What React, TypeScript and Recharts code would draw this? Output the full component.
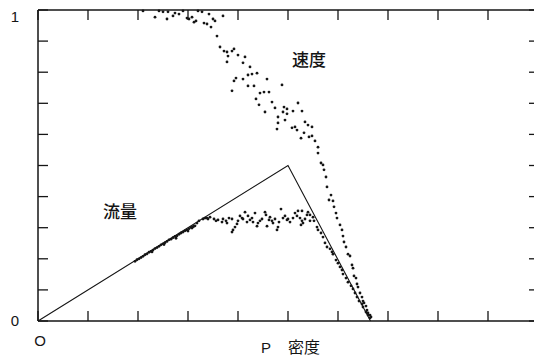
import { ScatterChart, Scatter, XAxis, YAxis } from "recharts";

// density (x) / normalised value (y)
const speedPoints: [number, number][] = [
  [2.1, 0.997], [2.34, 0.977], [2.42, 0.997], [2.5, 0.994], [2.58, 0.971], [2.6, 0.994],
  [2.7, 0.981], [2.74, 0.99], [2.82, 0.987], [2.9, 0.997], [2.98, 0.974], [3.02, 0.971],
  [3.08, 0.977], [3.12, 0.961], [3.16, 0.965], [3.2, 0.997], [3.28, 0.994], [3.32, 0.958],
  [3.38, 0.955], [3.42, 0.987], [3.46, 0.945], [3.5, 0.971], [3.54, 0.965], [3.58, 0.916],
  [3.7, 0.981], [3.64, 0.881], [3.72, 0.868], [3.78, 0.865], [3.8, 0.852], [3.88, 0.868],
  [3.92, 0.875], [3.78, 0.833], [4.0, 0.855], [4.14, 0.849], [4.1, 0.83],
  [4.24, 0.817], [4.28, 0.794], [4.38, 0.797], [4.2, 0.791], [3.96, 0.781], [3.92, 0.772],
  [4.1, 0.778], [4.58, 0.778], [4.2, 0.756], [4.32, 0.756], [3.88, 0.74], [4.44, 0.733],
  [4.52, 0.736], [4.62, 0.736], [4.88, 0.759], [4.36, 0.714], [4.68, 0.704], [4.42, 0.695],
  [4.74, 0.685], [4.54, 0.672], [4.92, 0.688], [4.98, 0.682], [5.1, 0.675], [5.28, 0.675],
  [4.9, 0.672], [5.2, 0.701], [4.98, 0.666], [4.8, 0.656], [4.8, 0.637], [4.94, 0.646],
  [5.08, 0.621], [5.14, 0.624], [4.78, 0.617], [5.18, 0.614], [5.34, 0.64], [5.4, 0.63],
  [5.48, 0.624], [5.32, 0.605], [5.42, 0.592], [5.48, 0.595], [5.26, 0.588], [5.54, 0.579],
  [5.6, 0.559], [5.6, 0.54], [5.66, 0.508], [5.7, 0.502], [5.72, 0.486], [5.76, 0.463],
  [5.78, 0.431], [5.86, 0.405], [5.82, 0.389], [5.9, 0.386], [5.92, 0.367], [5.96, 0.347],
  [5.98, 0.331], [6.04, 0.309], [6.08, 0.293], [6.1, 0.273], [6.12, 0.254], [6.16, 0.238],
  [6.2, 0.215], [6.24, 0.209], [6.28, 0.18], [6.3, 0.17], [6.32, 0.145], [6.36, 0.138],
  [6.38, 0.119], [6.4, 0.109], [6.44, 0.09], [6.48, 0.077], [6.5, 0.064], [6.52, 0.058],
  [6.56, 0.048], [6.58, 0.035], [6.6, 0.026], [6.64, 0.019], [6.66, 0.013],
];

const flowPoints: [number, number][] = [
  [1.94, 0.192], [1.98, 0.197], [2.02, 0.2], [2.06, 0.204], [2.1, 0.208], [2.14, 0.213],
  [2.18, 0.216], [2.22, 0.221], [2.26, 0.224], [2.28, 0.222], [2.3, 0.228], [2.34, 0.233],
  [2.38, 0.236], [2.42, 0.24], [2.46, 0.245], [2.5, 0.248], [2.52, 0.246], [2.54, 0.252],
  [2.58, 0.256], [2.62, 0.261], [2.66, 0.263], [2.7, 0.268], [2.74, 0.272], [2.76, 0.266],
  [2.78, 0.274], [2.82, 0.279], [2.86, 0.283], [2.9, 0.286], [2.94, 0.29], [2.98, 0.293],
  [3.0, 0.289], [3.02, 0.297], [3.06, 0.301], [3.1, 0.303], [3.14, 0.306],
  [3.08, 0.299], [3.12, 0.305], [3.18, 0.315], [3.22, 0.322], [3.3, 0.328], [3.34, 0.331],
  [3.38, 0.331], [3.4, 0.328], [3.44, 0.334], [3.52, 0.328], [3.56, 0.322], [3.6, 0.325],
  [3.68, 0.318], [3.7, 0.328], [3.76, 0.322], [3.78, 0.315], [3.82, 0.331], [3.88, 0.328],
  [3.9, 0.293], [3.88, 0.286], [3.94, 0.302], [3.98, 0.312], [4.0, 0.322], [4.04, 0.338],
  [4.08, 0.331], [4.1, 0.328], [4.14, 0.35], [4.18, 0.318], [4.2, 0.338], [4.24, 0.325],
  [4.28, 0.331], [4.3, 0.318], [4.34, 0.347], [4.38, 0.305], [4.4, 0.315], [4.44, 0.322],
  [4.48, 0.328], [4.54, 0.35], [4.56, 0.341], [4.58, 0.305], [4.62, 0.325], [4.64, 0.334],
  [4.68, 0.322], [4.7, 0.315], [4.74, 0.328], [4.78, 0.293], [4.8, 0.302], [4.82, 0.318],
  [4.86, 0.36], [4.9, 0.331], [4.94, 0.338], [4.98, 0.325], [5.0, 0.328], [5.04, 0.318],
  [5.1, 0.331], [5.14, 0.347], [5.18, 0.338], [5.2, 0.354], [5.24, 0.331], [5.28, 0.322],
  [5.34, 0.328], [5.38, 0.341], [5.4, 0.35], [5.44, 0.322],
  [5.28, 0.354], [5.26, 0.309], [5.3, 0.315], [5.44, 0.341], [5.5, 0.334], [5.52, 0.322],
  [5.58, 0.302], [5.6, 0.293], [5.66, 0.283], [5.7, 0.27], [5.74, 0.251], [5.78, 0.238],
  [5.84, 0.232], [5.88, 0.222], [5.9, 0.215], [5.96, 0.196], [6.0, 0.186], [6.04, 0.174],
  [6.08, 0.164], [6.1, 0.151], [6.16, 0.138], [6.2, 0.125], [6.26, 0.113], [6.3, 0.103],
  [6.34, 0.09], [6.38, 0.077], [6.42, 0.064], [6.48, 0.055], [6.5, 0.045], [6.56, 0.029],
  [6.6, 0.019], [6.64, 0.01],
];

// theoretical flow-density triangle
const modelLine: [number, number][] = [[0, 0], [5, 0.5], [6.65, 0]];

const xTicks = [0, 1, 2, 3, 4, 5, 6, 7, 8, 9, 10];
const yTicks = [0, 0.1, 0.2, 0.3, 0.4, 0.5, 0.6, 0.7, 0.8, 0.9, 1];
const yLabelTicks = [0, 1];

const INK = "#151515";
const FONT = "'Liberation Sans', Arial, sans-serif";
const CJK = "'Noto Sans CJK JP', 'Noto Sans CJK SC', sans-serif";

const toRows = (pts: [number, number][]) => pts.map(([d, v]) => ({ d, v }));

function Dot({ cx, cy }: any) {
  return <circle cx={cx} cy={cy} r={1.4} fill={INK} />;
}

const NoLabel = () => <g />;

function YLabel({ y, payload }: any) {
  const dy = payload.value === 1 ? 12 : 5;
  return (
    <text x={15} y={y + dy} textAnchor="middle" fontSize={15} fontFamily={FONT} fill={INK}>
      {payload.value}
    </text>
  );
}

export default function App() {
  const axisLine = { stroke: INK, strokeWidth: 1.5 };
  const tickLine = { stroke: INK, strokeWidth: 1.3 };
  return (
    <div style={{ position: "absolute", left: 0, top: 0, width: 534, height: 358, overflow: "hidden", background: "#fff" }}>
      <ScatterChart width={540} height={358} margin={{ top: 10, right: 2, bottom: 37, left: 0 }}>
        <XAxis xAxisId="b" dataKey="d" type="number" domain={[0, 10]} ticks={xTicks} mirror
          axisLine={axisLine} tickLine={tickLine} tickSize={10} tick={NoLabel} />
        <XAxis xAxisId="t" dataKey="d" type="number" domain={[0, 10]} ticks={xTicks} mirror orientation="top"
          axisLine={axisLine} tickLine={tickLine} tickSize={10} tick={NoLabel} />
        <YAxis yAxisId="lab" dataKey="v" type="number" domain={[0, 1]} ticks={yLabelTicks} width={38}
          axisLine={false} tickLine={false} tick={<YLabel />} />
        <YAxis yAxisId="l" dataKey="v" type="number" domain={[0, 1]} ticks={yTicks} mirror
          axisLine={axisLine} tickLine={tickLine} tickSize={10} tick={NoLabel} />
        <YAxis yAxisId="r" dataKey="v" type="number" domain={[0, 1]} ticks={yTicks} mirror orientation="right"
          axisLine={axisLine} tickLine={tickLine} tickSize={9} tick={NoLabel} />
        <Scatter xAxisId="b" yAxisId="lab" data={toRows(modelLine)} line={{ stroke: INK, strokeWidth: 1.1 }}
          shape={NoLabel} isAnimationActive={false} />
        <Scatter xAxisId="b" yAxisId="l" data={toRows(flowPoints)} shape={<Dot />} isAnimationActive={false} />
        <Scatter xAxisId="t" yAxisId="r" data={toRows(speedPoints)} shape={<Dot />} isAnimationActive={false} />
      </ScatterChart>
      <svg width={534} height={358} style={{ position: "absolute", left: 0, top: 0, pointerEvents: "none" }}>
        <text x={40} y={346} textAnchor="middle" fontSize={15} fontFamily={FONT} fill={INK}>O</text>
        <text x={266} y={353} textAnchor="middle" fontSize={15} fontFamily={FONT} fill={INK}>P</text>
        <text x={288} y={353} fontSize={16} fontFamily={CJK} fill={INK}>密度</text>
        <text x={292} y={66} fontSize={17} fontFamily={CJK} fontWeight={500} fill={INK}>速度</text>
        <text x={103} y={218} fontSize={17} fontFamily={CJK} fontWeight={500} fill={INK}>流量</text>
      </svg>
    </div>
  );
}
